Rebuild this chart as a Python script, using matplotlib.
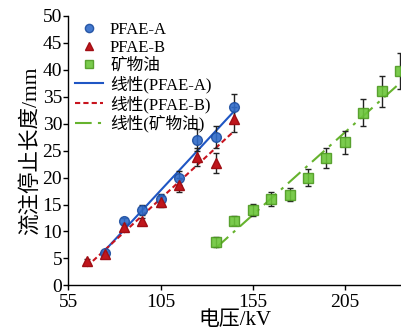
import numpy as np
import matplotlib
matplotlib.use("Agg")
import matplotlib.pyplot as plt

plt.rcParams["font.family"] = ["Liberation Serif", "Noto Sans CJK SC"]

# PFAE-A
xa = [75, 85, 95, 105, 115, 125, 135, 145]
ya = [6, 12, 14, 16, 20, 27, 27.5, 33]
ea = [0.3, 0.5, 1.0, 1.0, 1.3, 2.0, 2.0, 2.5]
# PFAE-B
xb = [65, 75, 85, 95, 105, 115, 125, 135, 145]
yb = [4.5, 5.8, 10.8, 12, 15.5, 18.7, 23.8, 22.7, 30.8]
eb = [0.4, 0.4, 0.5, 0.5, 1.0, 1.3, 1.7, 1.8, 2.3]
# mineral oil
xo = [135, 145, 155, 165, 175, 185, 195, 205, 215, 225, 235]
yo = [8, 12, 14, 16, 16.8, 20, 23.6, 26.5, 32, 36, 39.8]
eo = [0.9, 0.8, 1.1, 1.3, 1.2, 1.5, 1.9, 2.1, 2.5, 2.9, 3.3]

labels = ["PFAE-A", "PFAE-B", "矿物油"]
fit_labels = ["线性(PFAE-A)", "线性(PFAE-B)", "线性(矿物油)"]

fig = plt.figure(figsize=(4.02, 3.35), dpi=100)
ax = fig.add_axes([0.170, 0.148, 0.83, 0.805])

ekw = dict(ecolor="#222222", elinewidth=1.0, capsize=2.5, capthick=1.0, linestyle="none", zorder=3)
ax.errorbar(xa, ya, yerr=ea, **ekw)
ax.errorbar(xb, yb, yerr=eb, **ekw)
ax.errorbar(xo, yo, yerr=eo, **ekw)

ha = ax.plot(xa, ya, "o", color="#2f6bc9", mec="#1d4ea0", ms=7, alpha=0.9, zorder=4, label=labels[0])
hb = ax.plot(xb, yb, "^", color="#c0161c", mec="#a00e14", ms=7, zorder=4, label=labels[1])
ho = ax.plot(xo, yo, "s", color="#6cc63a", mec="#4e9a22", ms=7, alpha=0.9, zorder=4, label=labels[2])

styles = [("-", "#1f56c4"), ((0, (2.5, 1.5)), "#c8141e"), ((0, (8, 3, 1.5, 3)), "#66b32e")]
fits = []
for (xs, ys), (ls, c), lab in zip([(xa, ya), (xb, yb), (xo, yo)], styles, fit_labels):
    k, b = np.polyfit(xs, ys, 1)
    xx = np.array([min(xs), max(xs)])
    fits += ax.plot(xx, k * xx + b, linestyle=ls, color=c, lw=1.5, zorder=2, label=lab)

ax.set_xlim(55, 236)
ax.set_ylim(0, 50)
ax.set_xticks([55, 105, 155, 205])
ax.set_yticks(range(0, 51, 5))
ax.tick_params(direction="out", length=3.5, width=1, labelsize=14)
ax.tick_params(axis="y", pad=1)
ax.tick_params(axis="x", pad=3)
for s in ["top", "right"]:
    ax.spines[s].set_visible(False)
for s in ["left", "bottom"]:
    ax.spines[s].set_linewidth(1.0)

ax.set_xlabel("电压/kV", fontsize=15, labelpad=0)
ax.set_ylabel("流注停止长度/mm", fontsize=15.5, labelpad=1)

leg = ax.legend(handles=ha + hb + ho + fits, loc="upper left", bbox_to_anchor=(-0.01, 1.015),
                frameon=False, fontsize=12, labelspacing=0.12, handlelength=1.7,
                handletextpad=0.4, borderaxespad=0.2, markerscale=0.85)

fig.savefig("out.png", dpi=100)
